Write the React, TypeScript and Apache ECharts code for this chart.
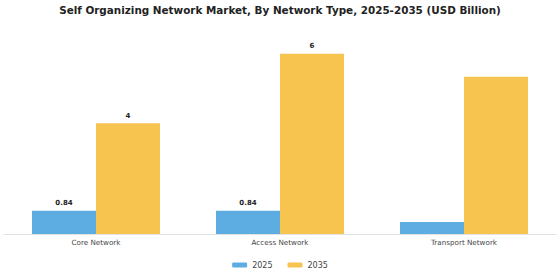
import React, { useEffect, useRef } from "react";
import * as echarts from "echarts";

const categories = ["Core Network", "Access Network", "Transport Network"];
const values2025 = [0.84, 0.84, 0.43];
const values2035 = [4.0, 6.5, 5.67];
const labels2025 = ["0.84", "0.84", ""];
const labels2035 = ["4", "6", ""];

export default function App() {
  const ref = useRef<HTMLDivElement>(null);
  useEffect(() => {
    const chart = echarts.init(ref.current!, null, { renderer: "svg" });
    const labelStyle = {
      show: true,
      position: "top" as const,
      fontSize: 7,
      fontWeight: "bold" as const,
      color: "#222",
      fontFamily: "DejaVu Sans",
      distance: 4,
    };
    chart.setOption({
      animation: false,
      title: {
        text: "Self Organizing Network Market, By Network Type, 2025-2035 (USD Billion)",
        left: "center",
        top: 0,
        textStyle: { fontSize: 10.4, fontWeight: "bold", color: "#222", fontFamily: "DejaVu Sans" },
      },
      legend: {
        bottom: 6,
        left: "center",
        itemWidth: 15,
        itemHeight: 5,
        itemGap: 15,
        textStyle: { fontSize: 8, color: "#444", fontFamily: "DejaVu Sans" },
        data: ["2025", "2035"],
      },
      grid: { left: 4, right: 4, top: 40, bottom: 46 },
      xAxis: {
        type: "category",
        data: categories,
        axisLine: { lineStyle: { color: "#e2e2e2" } },
        axisTick: { show: false },
        axisLabel: { fontSize: 7.2, color: "#444", fontFamily: "DejaVu Sans", margin: 5 },
      },
      yAxis: { type: "value", min: 0, max: 7, show: false },
      series: [
        {
          name: "2025",
          type: "bar",
          data: values2025,
          barWidth: 64,
          barGap: "0%",
          itemStyle: { color: "#5DADE2" },
          label: { ...labelStyle, formatter: (p: any) => labels2025[p.dataIndex] },
        },
        {
          name: "2035",
          type: "bar",
          data: values2035,
          barWidth: 64,
          barGap: "0%",
          itemStyle: { color: "#F7C44F" },
          label: { ...labelStyle, formatter: (p: any) => labels2035[p.dataIndex] },
        },
      ],
    });
    return () => chart.dispose();
  }, []);
  return <div ref={ref} style={{ position: "absolute", left: 0, top: 0, width: 560, height: 280 }} />;
}
